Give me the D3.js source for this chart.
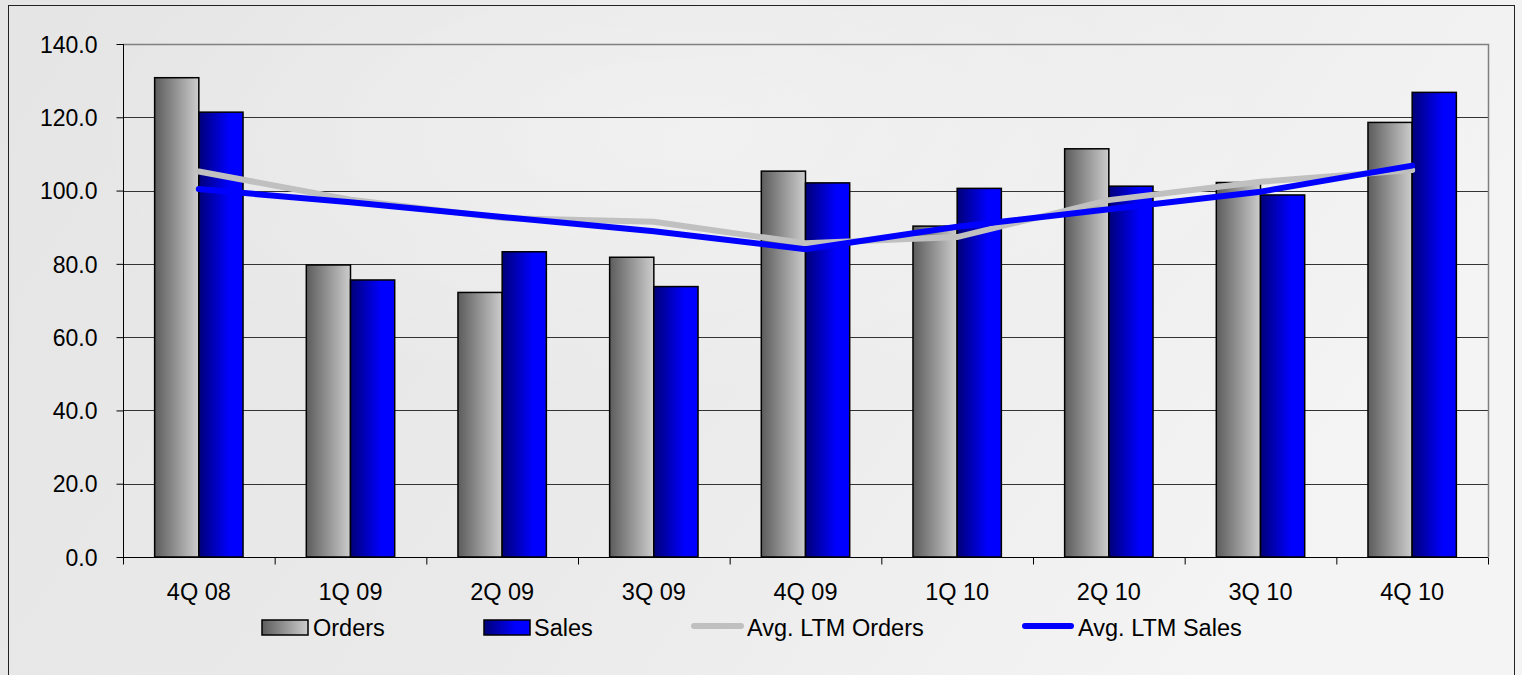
<!DOCTYPE html>
<html>
<head>
<meta charset="utf-8">
<script src="https://cdn.jsdelivr.net/npm/d3@7"></script>
<style>
  html, body { margin: 0; padding: 0; background: #ececec; overflow: hidden; }
  text { font-family: Arial, "Liberation Sans", sans-serif; fill: #000; }
</style>
</head>
<body>
<div id="chart"></div>
<script>
var categories = ["4Q 08", "1Q 09", "2Q 09", "3Q 09", "4Q 09", "1Q 10", "2Q 10", "3Q 10", "4Q 10"];
var orders = [130.8, 79.7, 72.2, 81.8, 105.3, 90.3, 111.4, 102.2, 118.6];
var sales = [121.4, 75.6, 83.3, 73.8, 102.1, 100.6, 101.2, 98.8, 126.8];
var avgOrders = [105.2, 97.5, 92.5, 91.5, 85.6, 87.3, 97.4, 102.4, 105.6];
var avgSales = [100.4, 96.8, 92.8, 88.9, 84.0, 90.1, 94.9, 99.7, 106.8];
var yTicks = [0, 20, 40, 60, 80, 100, 120, 140];

var width = 1522;
var height = 675;

var plot = { left: 123, right: 1488, top: 44, bottom: 557 };

var svg = d3.select("#chart")
  .append("svg")
  .attr("width", width)
  .attr("height", height);

var defs = svg.append("defs");

var bg = defs.append("linearGradient").attr("id", "bgGrad")
  .attr("x1", "0").attr("y1", "0").attr("x2", "1").attr("y2", "0.3");
bg.append("stop").attr("offset", "0%").attr("stop-color", "#e5e5e5");
bg.append("stop").attr("offset", "55%").attr("stop-color", "#eaeaea");
bg.append("stop").attr("offset", "100%").attr("stop-color", "#f4f4f4");

var glow = defs.append("radialGradient").attr("id", "glow")
  .attr("cx", "0.45").attr("cy", "0.2").attr("r", "0.4");
glow.append("stop").attr("offset", "0%").attr("stop-color", "#ffffff").attr("stop-opacity", 0.35);
glow.append("stop").attr("offset", "100%").attr("stop-color", "#ffffff").attr("stop-opacity", 0);

var grayGrad = defs.append("linearGradient").attr("id", "grayGrad")
  .attr("x1", "0").attr("y1", "0").attr("x2", "1").attr("y2", "0");
grayGrad.append("stop").attr("offset", "0%").attr("stop-color", "#5c5c5c");
grayGrad.append("stop").attr("offset", "100%").attr("stop-color", "#cdcdcd");

var blueGrad = defs.append("linearGradient").attr("id", "blueGrad")
  .attr("x1", "0").attr("y1", "0").attr("x2", "1").attr("y2", "0");
blueGrad.append("stop").attr("offset", "0%").attr("stop-color", "#000078");
blueGrad.append("stop").attr("offset", "70%").attr("stop-color", "#0000ff");
blueGrad.append("stop").attr("offset", "100%").attr("stop-color", "#0000ff");

// background + outer frame
svg.append("rect").attr("width", width).attr("height", height).attr("fill", "url(#bgGrad)");
svg.append("rect").attr("width", width).attr("height", height).attr("fill", "url(#glow)");
svg.append("rect")
  .attr("x", 8.5).attr("y", 5.5)
  .attr("width", 1506).attr("height", 720)
  .attr("fill", "none")
  .attr("stroke", "#222")
  .attr("stroke-width", 1);

var x0 = d3.scaleBand()
  .domain(categories)
  .range([plot.left, plot.right])
  .padding(0);

var x1 = d3.scaleBand()
  .domain(["orders", "sales"])
  .range([0, x0.bandwidth()])
  .paddingInner(0)
  .paddingOuter(0.716);

var yScale = d3.scaleLinear()
  .domain([0, 140])
  .range([plot.bottom, plot.top]);

// gridlines
svg.append("g")
  .selectAll("line")
  .data(yTicks.filter(d => d > 0 && d < 140))
  .enter()
  .append("line")
  .attr("x1", plot.left).attr("x2", plot.right)
  .attr("y1", d => Math.round(yScale(d)) + 0.5)
  .attr("y2", d => Math.round(yScale(d)) + 0.5)
  .attr("stroke", "#333")
  .attr("stroke-width", 1);

// plot area frame (top & right)
svg.append("path")
  .attr("d", `M${plot.left},${plot.top + 0.5}H${plot.right + 0.5}V${plot.bottom}`)
  .attr("fill", "none")
  .attr("stroke", "#808080")
  .attr("stroke-width", 1.5);

// bars
var groups = svg.append("g")
  .selectAll("g")
  .data(categories)
  .enter()
  .append("g")
  .attr("transform", d => `translate(${x0(d)},0)`);

groups.append("rect")
  .attr("x", x1("orders"))
  .attr("y", (d, i) => yScale(orders[i]))
  .attr("width", x1.bandwidth())
  .attr("height", (d, i) => yScale(0) - yScale(orders[i]))
  .attr("fill", "url(#grayGrad)")
  .attr("stroke", "#000")
  .attr("stroke-width", 1.5);

groups.append("rect")
  .attr("x", x1("sales"))
  .attr("y", (d, i) => yScale(sales[i]))
  .attr("width", x1.bandwidth())
  .attr("height", (d, i) => yScale(0) - yScale(sales[i]))
  .attr("fill", "url(#blueGrad)")
  .attr("stroke", "#000")
  .attr("stroke-width", 1.5);

// axes
var yAxis = d3.axisLeft(yScale)
  .tickValues(yTicks)
  .tickSize(7)
  .tickPadding(19)
  .tickFormat(d3.format(".1f"));

var yG = svg.append("g")
  .attr("transform", `translate(${plot.left + 0.5},0)`)
  .call(yAxis);
yG.select(".domain").attr("stroke", "#000").attr("d", `M0,${plot.top}V${plot.bottom}`);
yG.selectAll(".tick line").attr("stroke", "#000");
yG.selectAll("text")
  .style("font-size", "23px")
  .attr("dy", "0.36em");

var xAxis = d3.axisBottom(x0)
  .tickSize(0)
  .tickPadding(26);

var xG = svg.append("g")
  .attr("transform", `translate(0,${plot.bottom + 0.5})`)
  .call(xAxis);
xG.select(".domain").attr("stroke", "#000").attr("d", `M${plot.left},0H${plot.right}`);
xG.selectAll("text").style("font-size", "23.5px");

// category boundary ticks
xG.selectAll(".bound")
  .data(categories.concat(["end"]))
  .enter()
  .append("line")
  .attr("x1", (d, i) => plot.left + i * x0.step() + 0.5)
  .attr("x2", (d, i) => plot.left + i * x0.step() + 0.5)
  .attr("y1", 0)
  .attr("y2", 7)
  .attr("stroke", "#000");

// average lines
var line = d3.line()
  .x((d, i) => x0(categories[i]) + x0.bandwidth() / 2)
  .y(d => yScale(d));

svg.append("path")
  .datum(avgOrders)
  .attr("d", line)
  .attr("fill", "none")
  .attr("stroke", "#c0c0c0")
  .attr("stroke-width", 6)
  .attr("stroke-linecap", "round");

svg.append("path")
  .datum(avgSales)
  .attr("d", line)
  .attr("fill", "none")
  .attr("stroke", "#0000ff")
  .attr("stroke-width", 6)
  .attr("stroke-linecap", "round");

// legend
var legend = svg.append("g");

legend.append("rect")
  .attr("x", 262).attr("y", 620).attr("width", 46).attr("height", 15)
  .attr("fill", "url(#grayGrad)").attr("stroke", "#000").attr("stroke-width", 1.5);
legend.append("text").attr("x", 313).attr("y", 636).style("font-size", "23.5px").text("Orders");

legend.append("rect")
  .attr("x", 484).attr("y", 620).attr("width", 46).attr("height", 15)
  .attr("fill", "url(#blueGrad)").attr("stroke", "#000").attr("stroke-width", 1.5);
legend.append("text").attr("x", 534).attr("y", 636).style("font-size", "23.5px").text("Sales");

legend.append("line")
  .attr("x1", 694).attr("x2", 741).attr("y1", 626).attr("y2", 626)
  .attr("stroke", "#c0c0c0").attr("stroke-width", 6).attr("stroke-linecap", "round");
legend.append("text").attr("x", 747).attr("y", 636).style("font-size", "23.5px").text("Avg. LTM Orders");

legend.append("line")
  .attr("x1", 1025).attr("x2", 1071).attr("y1", 626).attr("y2", 626)
  .attr("stroke", "#0000ff").attr("stroke-width", 6).attr("stroke-linecap", "round");
legend.append("text").attr("x", 1078).attr("y", 636).style("font-size", "23.5px").text("Avg. LTM Sales");
</script>
</body>
</html>
